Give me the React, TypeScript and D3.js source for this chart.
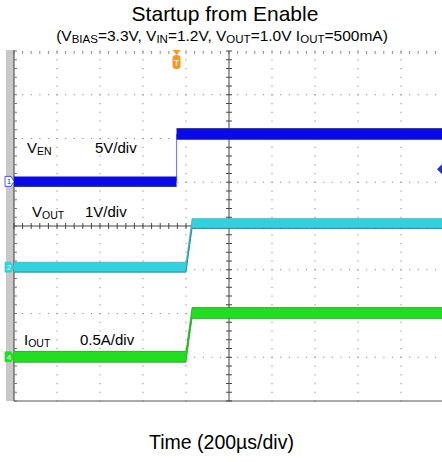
import React from "react";
import * as d3 from "d3";

// scope traces (time in µs, 200µs/div)
const enTime = [0, 756, 756, 2000];
const enVolts = [0, 0, 5.4, 5.4];
const voutTime = [0, 800, 828, 2000];
const voutVolts = [0, 0, 1.0, 1.0];
const ioutTime = [0, 800, 828, 2000];
const ioutAmps = [0, 0, 0.5, 0.5];

// channel scale (units per div) and reference position (div from centre)
const enScale = 5, enRef = 1.02;
const voutScale = 1, voutRef = -0.94;
const ioutScale = 0.5, ioutRef = -2.99;
const triggerTime = 756;
const triggerLevel = 1.4;

const W = 442, H = 462;
const x = d3.scaleLinear().domain([0, 2000]).range([14, 444]);
const y = d3.scaleLinear().domain([-4, 4]).range([401, 51]);

const FONT = "'Liberation Sans', Arial, sans-serif";

function band(times: number[], vals: number[], scale: number, ref: number, half: number) {
  const pts = times.map((t, i) => [x(t), y(vals[i] / scale + ref)] as [number, number]);
  return d3.area<[number, number]>().x(d => d[0]).y0(d => d[1] + half).y1(d => d[1] - half)(pts) || "";
}

function edge(times: number[], vals: number[], scale: number, ref: number, off: number) {
  const pts = times.map((t, i) => [x(t), y(vals[i] / scale + ref) + off] as [number, number]);
  return d3.line()(pts) || "";
}

function Marker({ yy, n, fill, textColor, stroke }: { yy: number; n: string; fill: string; textColor: string; stroke: string }) {
  return (
    <g>
      <path d={`M5,${yy - 5} L11,${yy - 5} L14,${yy} L11,${yy + 5} L5,${yy + 5} Z`} fill={fill} stroke={stroke} strokeWidth={0.8} />
      <text x={9} y={yy + 3} fontSize={8} fontFamily={FONT} fill={textColor} textAnchor="middle">{n}</text>
    </g>
  );
}

export default function App() {
  const divX = d3.range(0, 11).map(i => x(i * 200));
  const divY = d3.range(-4, 5).map(j => y(j));
  const minorX = d3.range(0, 51).map(i => x(i * 40));
  const minorY = d3.range(0, 41).map(j => y(-4 + j * 0.2));
  const cx = x(1000), cy = y(0);

  const dots: JSX.Element[] = [];
  divX.forEach((gx, i) => {
    if (i === 0 || i === 5 || i === 10) return;
    minorY.forEach((my, k) => dots.push(<rect key={`v${i}-${k}`} x={gx - 0.5} y={my - 0.5} width={1} height={1.2} fill="#888" />));
  });
  divY.forEach((gy, j) => {
    if (j === 0 || j === 4 || j === 8) return;
    minorX.forEach((mx, k) => dots.push(<rect key={`h${j}-${k}`} x={mx - 0.5} y={gy - 0.5} width={1.2} height={1} fill="#888" />));
  });

  return (
    <div style={{ position: "absolute", left: 0, top: 0 }}>
      <svg width={W} height={H} style={{ display: "block", background: "#fff" }}>
        <text x={225} y={21} textAnchor="middle" fontFamily={FONT} fontSize={21} fill="#000">Startup from Enable</text>
        <text x={222} y={41} textAnchor="middle" fontFamily={FONT} fontSize={15.5} fill="#000">
          (V<tspan fontSize={11.5} dy={2}>BIAS</tspan><tspan dy={-2}>=3.3V, V</tspan>
          <tspan fontSize={11.5} dy={2}>IN</tspan><tspan dy={-2}>=1.2V, V</tspan>
          <tspan fontSize={11.5} dy={2}>OUT</tspan><tspan dy={-2}>=1.0V I</tspan>
          <tspan fontSize={11.5} dy={2}>OUT</tspan><tspan dy={-2}>=500mA)</tspan>
        </text>

        {/* left gray bar */}
        <rect x={6} y={50} width={8} height={351} fill="#c8c8c8" />

        {dots}

        {/* top edge minor ticks */}
        {minorX.map((mx, k) => (
          <line key={`tt${k}`} x1={mx} x2={mx} y1={y(4)} y2={y(4) + 3} stroke="#8a8a8a" strokeWidth={1} />
        ))}
        {/* left edge */}
        <line x1={14} x2={14} y1={50} y2={401} stroke="#555" strokeWidth={1.2} />
        {minorY.map((my, k) => (
          <line key={`lt${k}`} x1={14} x2={17} y1={my} y2={my} stroke="#777" strokeWidth={1} />
        ))}
        {/* bottom edge */}
        <line x1={14} x2={W} y1={401} y2={401} stroke="#555" strokeWidth={1.2} />

        {/* centre axes with minor ticks */}
        <line x1={cx} x2={cx} y1={51} y2={401} stroke="#444" strokeWidth={1} />
        <line x1={14} x2={W} y1={cy} y2={cy} stroke="#444" strokeWidth={1} />
        {minorY.map((my, k) => (
          <line key={`cy${k}`} x1={cx - 3} x2={cx + 3} y1={my} y2={my} stroke="#444" strokeWidth={1} />
        ))}
        {minorX.map((mx, k) => (
          <line key={`cx${k}`} x1={mx} x2={mx} y1={cy - 3} y2={cy + 3} stroke="#444" strokeWidth={1} />
        ))}

        {/* EN trace (blue) */}
        <line x1={x(triggerTime)} x2={x(triggerTime)} y1={y(enRef)} y2={y(5.4 / enScale + enRef)} stroke="#7f7fd8" strokeWidth={1.2} />
        <path d={band(enTime.slice(0, 2), enVolts.slice(0, 2), enScale, enRef, 5)} fill="#0a0ae6" />
        <path d={band(enTime.slice(2), enVolts.slice(2), enScale, enRef, 5.5)} fill="#0a0ae6" />
        <path d={edge(enTime.slice(0, 2), enVolts.slice(0, 2), enScale, enRef, 5)} stroke="#2a2a9a" strokeWidth={1} fill="none" />
        <path d={edge(enTime.slice(2), enVolts.slice(2), enScale, enRef, -5.5)} stroke="#2a2a9a" strokeWidth={1} fill="none" />

        {/* VOUT trace (cyan) */}
        <path d={band(voutTime, voutVolts, voutScale, voutRef, 5)} fill="#30d2e0" />
        <path d={edge(voutTime, voutVolts, voutScale, voutRef, 5)} stroke="#1a6f78" strokeWidth={0.8} fill="none" />
        <path d={edge(voutTime, voutVolts, voutScale, voutRef, -5)} stroke="#1a6f78" strokeWidth={0.6} fill="none" opacity={0.6} />

        {/* IOUT trace (green) */}
        <path d={band(ioutTime, ioutAmps, ioutScale, ioutRef, 5.5)} fill="#1fe01f" />
        <path d={edge(ioutTime, ioutAmps, ioutScale, ioutRef, 5.5)} stroke="#187018" strokeWidth={0.8} fill="none" opacity={0.7} />
        <path d={edge(ioutTime, ioutAmps, ioutScale, ioutRef, -5.5)} stroke="#187018" strokeWidth={0.8} fill="none" opacity={0.7} />

        {/* channel markers */}
        <Marker yy={y(enRef)} n="1" fill="#fff" textColor="#2030e0" stroke="#2030e0" />
        <Marker yy={y(voutRef)} n="2" fill="#30d2e0" textColor="#fff" stroke="#30d2e0" />
        <Marker yy={y(ioutRef)} n="4" fill="#1fe01f" textColor="#fff" stroke="#1fe01f" />

        {/* trigger level marker (right) */}
        <path d={`M${W - 5},${y(triggerLevel / enScale + enRef)} L${W},${y(triggerLevel / enScale + enRef) - 5} L${W},${y(triggerLevel / enScale + enRef) + 5} Z`} fill="#2030e0" />

        {/* trigger position marker (top) */}
        <path d={`M${x(triggerTime) - 4},50 L${x(triggerTime) + 4},50 L${x(triggerTime)},55 Z`} fill="#f39a1e" />
        <rect x={x(triggerTime) - 4} y={55} width={8} height={14} rx={3.5} fill="#f39a1e" />
        <text x={x(triggerTime)} y={66} textAnchor="middle" fontFamily={FONT} fontSize={9} fill="#fff">T</text>

        {/* channel labels */}
        <text x={27} y={153} fontFamily={FONT} fontSize={15} fill="#000">V<tspan fontSize={10.5} dy={2}>EN</tspan></text>
        <text x={95} y={153} fontFamily={FONT} fontSize={15} fill="#000">5V/div</text>
        <text x={32} y={217} fontFamily={FONT} fontSize={15} fill="#000">V<tspan fontSize={10.5} dy={2}>OUT</tspan></text>
        <text x={85} y={217} fontFamily={FONT} fontSize={15} fill="#000">1V/div</text>
        <text x={24} y={345} fontFamily={FONT} fontSize={15} fill="#000">I<tspan fontSize={10.5} dy={2}>OUT</tspan></text>
        <text x={80} y={345} fontFamily={FONT} fontSize={15} fill="#000">0.5A/div</text>

        <text x={221.5} y={449} textAnchor="middle" fontFamily={FONT} fontSize={19.5} fill="#000">Time (200µs/div)</text>
      </svg>
    </div>
  );
}
